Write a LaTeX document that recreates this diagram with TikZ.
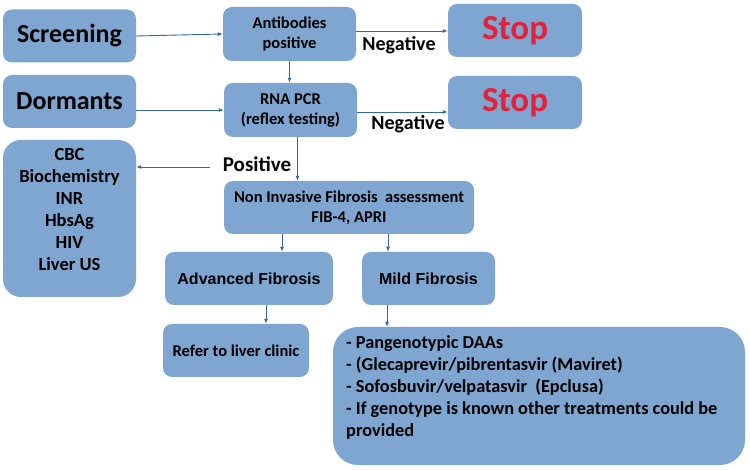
\documentclass[tikz,border=0pt]{standalone}
\usepackage{fontspec}
\setmainfont{Carlito}[BoldFont={Carlito Bold}]
\newfontfamily\arialfont{Liberation Sans}
\usetikzlibrary{arrows.meta,calc}
\definecolor{boxblue}{RGB}{126,166,208}
\definecolor{arrowblue}{RGB}{52,104,168}
\definecolor{stopred}{RGB}{228,32,58}
\begin{document}
\begin{tikzpicture}[x=1pt,y=-1pt,
 box/.style={fill=boxblue, rounded corners=9pt, inner sep=0pt, align=center, font=\bfseries\fontsize{16.5}{20}\selectfont},
 arr/.style={draw=arrowblue, line width=0.9pt, -{Latex[length=5pt,width=4pt]}},
 lbl/.style={font=\bfseries\fontsize{20}{24}\selectfont, inner sep=0pt},
 big/.style={font=\bfseries\fontsize{26}{30}\selectfont},
 stoptxt/.style={font=\bfseries\fontsize{35}{40}\selectfont, text=stopred},
 arial/.style={font=\arialfont\bfseries\fontsize{16}{20}\selectfont}]
\useasboundingbox[fill=white] (0,0) rectangle (750,470);

\node[box, big, minimum width=133pt, minimum height=53pt] (scr) at (69.5,36) {Screening};
\node[box, big, minimum width=133pt, minimum height=53pt] (dor) at (69.5,101.5) {Dormants};
\node[box, minimum width=133pt, minimum height=54pt] (anti) at (289.5,34) {Antibodies\\positive};
\node[box, minimum width=133pt, minimum height=54pt] (rna) at (290.5,110) {RNA PCR\\(reflex testing)};
\node[box, stoptxt, minimum width=134pt, minimum height=53pt] (stop1) at (515,30.5) {Stop};
\node[box, stoptxt, minimum width=134pt, minimum height=53pt] (stop2) at (515,102.5) {Stop};
\node[box, rounded corners=18pt, minimum width=133pt, minimum height=157pt] (cbc) at (69.5,218.5) {};
\node[align=center, inner sep=0pt, font=\bfseries\fontsize{18.5}{22}\selectfont] (cbctext) at (69.5,210) {CBC\\Biochemistry\\INR\\HbsAg\\HIV\\Liver US};
\node[box, minimum width=250pt, minimum height=53pt] (nif) at (349,207.5) {Non Invasive Fibrosis\ \ assessment\\FIB-4, APRI};
\node[box, arial, minimum width=168pt, minimum height=53pt] (adv) at (249,278.5) {Advanced Fibrosis};
\node[box, arial, minimum width=133pt, minimum height=53pt] (mild) at (428.5,278.5) {Mild Fibrosis};
\node[box, minimum width=146pt, minimum height=53pt] (refer) at (236,350.5) {Refer to liver clinic};
\node[box, rounded corners=25pt, minimum width=412pt, minimum height=138pt] (daa) at (539,396) {};
\node[anchor=north west, align=left, inner sep=0pt, font=\bfseries\fontsize{18.3}{22}\selectfont] (daatext) at (346,335.5) {- Pangenotypic DAAs\\- (Glecaprevir/pibrentasvir (Maviret)\\- Sofosbuvir/velpatasvir\ \ (Epclusa)\\- If genotype is known other treatments could be\\provided};

\node[lbl] (neg1) at (399,45) {Negative};
\node[lbl] (neg2) at (408,124) {Negative};
\node[lbl, font=\bfseries\fontsize{21}{24}\selectfont] (pos) at (257,164) {Positive};

\draw[arr] (scr.east) -- (anti.west);
\draw[arr] (dor.east |- rna.west) -- (rna.west);
\draw[arr] ([yshift=3pt]anti.east) -- ([yshift=3pt]anti.east -| stop1.west);
\draw[arr] ([yshift=-2pt]rna.east) -- ([yshift=-2pt]rna.east -| stop2.west);
\draw[arr] (anti.south) -- (anti.south |- rna.north);
\coordinate (r1) at ([xshift=7pt]rna.south);
\draw[arr] (r1) -- (r1 |- nif.north);
\coordinate (pstart) at (210,167);
\draw[arr] (pstart) -- (pstart -| cbc.east);
\coordinate (a1) at ([xshift=33pt]adv.north);
\draw[arr] (a1 |- nif.south) -- (a1);
\coordinate (m1) at ([xshift=-40.5pt]mild.north);
\draw[arr] (m1 |- nif.south) -- (m1);
\coordinate (a2) at ([xshift=17pt]adv.south);
\draw[arr] (a2) -- (a2 |- refer.north);
\coordinate (m2) at ([xshift=-41.5pt]mild.south);
\draw[arr] (m2) -- (m2 |- daa.north);
\end{tikzpicture}
\end{document}
